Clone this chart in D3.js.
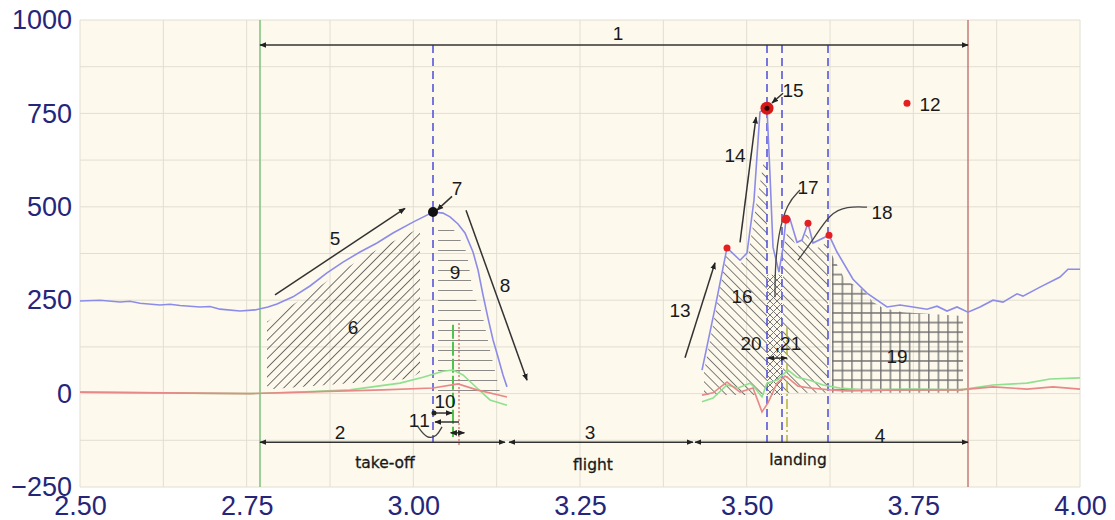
<!DOCTYPE html>
<html><head><meta charset="utf-8">
<script src="https://cdn.jsdelivr.net/npm/d3@7"></script>
<style>
body{margin:0;background:#fff;}
svg{display:block;}
</style></head>
<body><svg id="chart" width="1115" height="520"></svg>
<script>
// ---------- data ----------
const xTicks = [2.50, 2.75, 3.00, 3.25, 3.50, 3.75, 4.00];
const yTicks = [-250, 0, 250, 500, 750, 1000];

// vertical force (blue)
const forceTakeoff = [[2.5,248],[2.53,250],[2.56,245],[2.575,247],[2.59,242],[2.62,237],[2.635,239],[2.65,236],[2.68,232],[2.695,233],[2.71,226],[2.74,221],[2.7625,224],[2.782,232],[2.7955,240],[2.8195,259],[2.845,288],[2.8705,323],[2.8945,352],[2.92,379],[2.9455,403],[2.9695,430],[2.9995,459],[3.0175,475],[3.0295,486],[3.0445,483],[3.055,473],[3.067,454],[3.0775,430],[3.0895,379],[3.097,331],[3.1045,264],[3.112,202],[3.1195,144],[3.127,98],[3.1345,50],[3.1405,18]];
const forceLanding = [[3.433,63],[3.4525,229],[3.4705,390],[3.49,357],[3.5005,376],[3.511,518],[3.52,754],[3.5305,764],[3.535,585],[3.5395,392],[3.5485,325],[3.5545,392],[3.559,467],[3.565,467],[3.5755,405],[3.583,411],[3.592,456],[3.5995,403],[3.6235,424],[3.6355,379],[3.6595,306],[3.6805,269],[3.7105,232],[3.73,237],[3.7495,232],[3.7705,226],[3.7855,234],[3.8005,221],[3.8155,232],[3.832,218],[3.85,232],[3.8695,250],[3.8845,245],[3.9055,267],[3.9145,261],[3.94,285],[3.97,312],[3.982,333],[4.0,333]];
// horizontal forces (green / red)
const greenTakeoff = [[2.5,4],[2.605,2],[2.755,0],[2.83,4],[2.905,10],[2.98,28],[3.0145,44],[3.0445,60],[3.0595,63],[3.0745,50],[3.0955,15],[3.115,-17],[3.1405,-31]];
const redTakeoff = [[2.5,4],[2.755,0],[2.9545,10],[3.0295,15],[3.067,26],[3.0955,10],[3.1405,-9]];
const greenLanding = [[3.433,-22],[3.4495,-12],[3.4705,23],[3.487,15],[3.505,28],[3.5125,15],[3.523,-9],[3.5305,28],[3.5455,36],[3.562,63],[3.5755,44],[3.595,36],[3.6145,23],[3.64,15],[3.6745,10],[3.7495,12],[3.82,10],[3.8695,23],[3.9205,28],[3.955,39],[4.0,42]];
const redLanding = [[3.433,-4],[3.4495,2],[3.4705,31],[3.49,4],[3.5095,15],[3.523,-49],[3.532,-25],[3.5455,28],[3.5575,47],[3.562,42],[3.577,20],[3.595,15],[3.625,10],[3.6505,7],[3.73,10],[3.82,10],[3.8695,18],[3.9205,12],[3.9595,18],[4.0,12]];

// marker points
const smallPeaks = [[3.4705,390,3.5],[3.559,467,4.5],[3.592,456,3.5],[3.6235,424,3.5],[3.7405,777,3.5]];
const bigPeak = [3.5305,764];
const takeoffPeak = [3.0295,486];

// phase boundaries and event lines
const phaseStart = 2.77, phaseEnd = 3.832;
const eventLines = [3.0295, 3.5305, 3.553, 3.622];

// hatched areas (time, value)
const area6 = [[2.7805,192],[2.8345,256],[2.8945,331],[2.95,390],[3.01,443],[3.01,57],[2.995,40],[2.7895,12],[2.7805,20]];
const area9 = [[3.037,459],[3.049,459],[3.0655,429],[3.0805,376],[3.0895,269],[3.103,216],[3.115,117],[3.13,4],[3.037,4]];
const area16 = [[3.436,59],[3.4705,379],[3.49,347],[3.502,368],[3.5155,518],[3.526,625],[3.5305,625],[3.5305,-4],[3.436,-4]];
const area20 = [[3.5305,318],[3.553,318],[3.553,-4],[3.5305,-4]];
const area18 = [[3.5545,384],[3.562,443],[3.5755,389],[3.5905,432],[3.5995,384],[3.622,405],[3.622,2],[3.5545,2]];
const area19 = [[3.628,371],[3.6475,304],[3.6745,277],[3.6895,245],[3.7045,229],[3.7345,218],[3.8245,208],[3.8245,2],[3.628,2]];

// arrows: [from, to, doubleHeaded]
const arrows = [
  [[2.77,933],[3.832,933],true],
  [[2.77,-130],[3.1375,-130],true],
  [[3.1435,-130],[3.4195,-130],true],
  [[3.4225,-130],[3.832,-130],true],
  [[2.7925,264],[2.9875,496],false],
  [[3.058,528],[3.0355,491],false],
  [[3.079,491],[3.1705,36],false],
  [[3.031,-52],[3.058,-52],false],
  [[3.0685,-76],[3.0325,-76],false],
  [[3.056,-105],[3.0765,-105],true],
  [[3.4075,96],[3.4525,350],false],
  [[3.49,405],[3.514,740],false],
  [[3.5545,804],[3.538,778],false],
  [[3.532,95],[3.5605,95],true]
];
const curve11 = [[3.007,-89],[3.0205,-122],[3.0355,-114],[3.043,-89]];
const curve17 = [[3.58,545],[3.5605,510],[3.547,424],[3.5425,330],[3.5425,258]];
const curve18 = [[3.6805,499],[3.6505,501],[3.625,483],[3.5995,411],[3.577,357]];

const numLabels = [["1",3.307,965],["2",2.89,-103],["3",3.265,-103],["4",3.7,-111],["5",2.8825,416],["6",2.9095,176],["7",3.0655,550],["8",3.1375,290],["9",3.0625,325],["10",3.0475,-22],["11",3.01,-73],["12",3.775,775],["13",3.4,223],["14",3.4825,638],["15",3.5695,812],["16",3.493,261],["17",3.592,552],["18",3.703,485],["19",3.7255,98],["20",3.5065,135],[",21",3.562,135]];
const phaseLabels = [["take-off",2.9575,-186],["flight",3.2695,-191],["landing",3.577,-178]];

// ---------- drawing ----------
const svg = d3.select("#chart");
const x = d3.scaleLinear().domain([2.5,4.0]).range([80,1080]);
const y = d3.scaleLinear().domain([-250,1000]).range([487,20]);

const defs = svg.append("defs");
function hatch(id, angle, sp, color, w){
  const p = defs.append("pattern").attr("id",id).attr("patternUnits","userSpaceOnUse")
    .attr("width",sp).attr("height",sp).attr("patternTransform","rotate("+angle+")");
  p.append("line").attr("x1",0).attr("y1",0).attr("x2",0).attr("y2",sp).attr("stroke",color).attr("stroke-width",w);
}
hatch("hFwd",45,6.5,"#4d4d4d",1.6);
hatch("hBack",-45,6.5,"#555",1.5);
hatch("hHoriz",90,10,"#666",1.5);
const cross = defs.append("pattern").attr("id","hCross").attr("patternUnits","userSpaceOnUse").attr("width",7).attr("height",7);
cross.append("path").attr("d","M0,0L7,7M7,0L0,7").attr("stroke","#777").attr("stroke-width",1);
const grid = defs.append("pattern").attr("id","hGrid").attr("patternUnits","userSpaceOnUse").attr("width",9.6).attr("height",9.6).attr("x",832).attr("y",0);
grid.append("path").attr("d","M0.8,0V9.6M0,5.8H9.6").attr("stroke","#6e6e6e").attr("stroke-width",1.3);

const mk = (id, path) => defs.append("marker").attr("id",id).attr("viewBox","0 0 10 10").attr("refX",9).attr("refY",5)
  .attr("markerWidth",7).attr("markerHeight",7).attr("markerUnits","userSpaceOnUse").attr("orient","auto-start-reverse")
  .append("path").attr("d",path).attr("fill","#222");
mk("arr","M0,1L10,5L0,9Z");

// plot background
svg.append("rect").attr("x",x(2.5)).attr("y",y(1000)).attr("width",x(4)-x(2.5)).attr("height",y(-250)-y(1000)).attr("fill","#fdf9ec");

// grid
const gx = d3.range(0,13).map(i=>2.5+i*0.125);
const gy = d3.range(0,11).map(i=>-250+i*125);
svg.append("g").selectAll("line").data(gx).join("line")
  .attr("x1",d=>x(d)).attr("x2",d=>x(d)).attr("y1",y(1000)).attr("y2",y(-250))
  .attr("stroke","#e2ded2").attr("stroke-width",1);
svg.append("g").selectAll("line").data(gy).join("line")
  .attr("y1",d=>y(d)).attr("y2",d=>y(d)).attr("x1",x(2.5)).attr("x2",x(4))
  .attr("stroke","#e2ded2").attr("stroke-width",1);

// hatched areas
const poly = d3.line().x(d=>x(d[0])).y(d=>y(d[1]));
[[area6,"hFwd"],[area9,"hHoriz"],[area16,"hBack"],[area20,"hCross"],[area18,"hBack"],[area19,"hGrid"]].forEach(([a,p])=>{
  svg.append("path").attr("d",poly(a)+"Z").attr("fill","url(#"+p+")");
});

// phase boundary lines
svg.append("line").attr("x1",x(phaseStart)).attr("x2",x(phaseStart)).attr("y1",y(1000)).attr("y2",y(-250)).attr("stroke","#7cc27c").attr("stroke-width",1.5);
svg.append("line").attr("x1",x(phaseEnd)).attr("x2",x(phaseEnd)).attr("y1",y(1000)).attr("y2",y(-250)).attr("stroke","#c47a7a").attr("stroke-width",1.5);

// event lines
svg.append("g").selectAll("line").data(eventLines).join("line")
  .attr("x1",d=>x(d)).attr("x2",d=>x(d)).attr("y1",y(933)).attr("y2",y(-130))
  .attr("stroke","#4b4bd6").attr("stroke-width",1.5).attr("stroke-dasharray","8,5");
svg.append("line").attr("x1",x(3.0595)).attr("x2",x(3.0595)).attr("y1",y(184)).attr("y2",y(-116)).attr("stroke","#4fc24f").attr("stroke-width",2).attr("stroke-dasharray","14,3");
svg.append("line").attr("x1",x(3.0685)).attr("x2",x(3.0685)).attr("y1",y(189)).attr("y2",y(-143)).attr("stroke","#e06060").attr("stroke-width",1.2).attr("stroke-dasharray","2,2");
svg.append("line").attr("x1",x(3.5605)).attr("x2",x(3.5605)).attr("y1",y(178)).attr("y2",y(-132)).attr("stroke","#b5b040").attr("stroke-width",1.5).attr("stroke-dasharray","10,3,2,3");

// series
const line = d3.line().x(d=>x(d[0])).y(d=>y(d[1]));
[[greenTakeoff,"#8fe08f"],[greenLanding,"#8fe08f"],[redTakeoff,"#e88888"],[redLanding,"#e88888"],[forceTakeoff,"#8c8ce8"],[forceLanding,"#8c8ce8"]]
 .forEach(([d,c])=>svg.append("path").attr("d",line(d)).attr("fill","none").attr("stroke",c).attr("stroke-width",1.6));

// arrows
svg.append("g").selectAll("line").data(arrows).join("line")
  .attr("x1",d=>x(d[0][0])).attr("y1",d=>y(d[0][1])).attr("x2",d=>x(d[1][0])).attr("y2",d=>y(d[1][1]))
  .attr("stroke","#333").attr("stroke-width",1.5)
  .attr("marker-end","url(#arr)").attr("marker-start",d=>d[2]?"url(#arr)":null);
svg.append("circle").attr("cx",x(3.031)).attr("cy",y(-52)).attr("r",2.5).attr("fill","#222");
const smooth = d3.line().x(d=>x(d[0])).y(d=>y(d[1])).curve(d3.curveBasis);
[curve11,curve17,curve18].forEach(c=>svg.append("path").attr("d",smooth(c)).attr("fill","none").attr("stroke","#444").attr("stroke-width",1.3));

// markers
svg.append("g").selectAll("circle").data(smallPeaks).join("circle")
  .attr("cx",d=>x(d[0])).attr("cy",d=>y(d[1])).attr("r",d=>d[2]).attr("fill","#e52020");
svg.append("circle").attr("cx",x(bigPeak[0])).attr("cy",y(bigPeak[1])).attr("r",6.5).attr("fill","#d81818");
svg.append("circle").attr("cx",x(bigPeak[0])).attr("cy",y(bigPeak[1])).attr("r",2.5).attr("fill","#300");
svg.append("circle").attr("cx",x(takeoffPeak[0])).attr("cy",y(takeoffPeak[1])).attr("r",5).attr("fill","#111");

// labels
svg.append("g").selectAll("text").data(numLabels).join("text")
  .attr("x",d=>x(d[1])).attr("y",d=>y(d[2])).attr("text-anchor","middle").attr("dominant-baseline","central")
  .attr("font-family","Liberation Sans, Arial, sans-serif").attr("font-size",19).attr("fill","#1a1a1a")
  .attr("letter-spacing",d=>d[0]==="11"?"1.5px":null)
  .text(d=>d[0]);
svg.append("g").selectAll("text").data(phaseLabels).join("text")
  .attr("x",d=>x(d[1])).attr("y",d=>y(d[2])).attr("text-anchor","middle").attr("dominant-baseline","central")
  .attr("font-family","DejaVu Sans, sans-serif").attr("font-size",15.5).attr("fill","#1a1a1a")
  .attr("stroke","#1a1a1a").attr("stroke-width",0.3)
  .text(d=>d[0]);

// axes
const yAxis = svg.append("g").attr("transform","translate("+x(2.5)+",0)")
  .call(d3.axisLeft(y).tickValues(yTicks).tickSize(0).tickPadding(8).tickFormat(d3.format("d")));
yAxis.select(".domain").remove();
yAxis.selectAll("text").attr("font-family","Liberation Sans, Arial, sans-serif").attr("font-size",27).attr("fill","#25257a");
const xAxis = svg.append("g").attr("transform","translate(0,"+y(-250)+")")
  .call(d3.axisBottom(x).tickValues(xTicks).tickSize(0).tickPadding(9).tickFormat(d3.format(".2f")));
xAxis.select(".domain").remove();
xAxis.selectAll("text").attr("font-family","Liberation Sans, Arial, sans-serif").attr("font-size",27).attr("fill","#25257a");
</script></body></html>
